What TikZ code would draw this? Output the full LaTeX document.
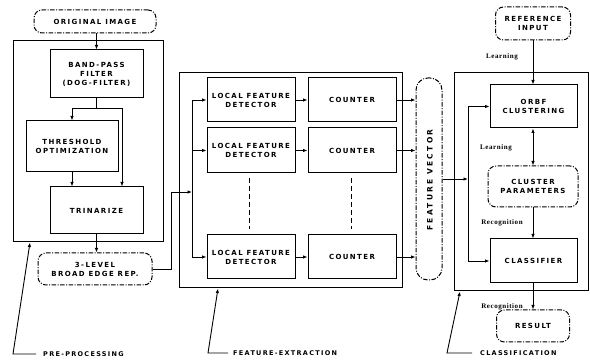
\documentclass[tikz,border=0pt]{standalone}
\usepackage{fontspec}
\setmainfont{DejaVu Sans}
\newfontfamily\capsfont{DejaVu Sans}[LetterSpace=20]
\newfontfamily\widecaps{DejaVu Sans}[LetterSpace=30]
\newfontfamily\notefont{Liberation Serif}[LetterSpace=8]
\usetikzlibrary{arrows.meta,calc}

\tikzset{
  boxfont/.style={font=\capsfont\bfseries\fontsize{7}{9}\selectfont},
  box/.style={draw, line width=1pt, align=center, inner sep=1pt, boxfont},
  term/.style={box, rounded corners=8pt,
    dash pattern=on 4.5pt off 1.5pt on 1pt off 1.5pt},
  frame/.style={draw, line width=1pt, inner sep=0pt},
  wire/.style={line width=0.9pt},
  arr/.style={wire, -{Latex[length=4.5pt,width=3.5pt]}},
  biarr/.style={wire, {Latex[length=4.5pt,width=3.5pt]}-{Latex[length=4.5pt,width=3.5pt]}},
  note/.style={font=\notefont\bfseries\fontsize{7}{8}\selectfont, inner sep=0pt},
  caption/.style={font=\capsfont\bfseries\fontsize{6.5}{8}\selectfont, inner sep=0pt, anchor=west},
  ellip/.style={line width=0.9pt, dash pattern=on 5pt off 3pt}
}

\begin{document}
\begin{tikzpicture}[x=1pt,y=-1pt]
\useasboundingbox (0,0) rectangle (590,363);

% ---------- pre-processing ----------
\node[frame, minimum width=150pt, minimum height=201pt] (pre) at (88,141.5) {};
\node[term, minimum width=122pt, minimum height=23pt] (orig) at (95,21.5) {ORIGINAL IMAGE};
\node[box, minimum width=93pt, minimum height=48pt] (bpf) at (96.5,74) {BAND-PASS\\FILTER\\(DOG-FILTER)};
\node[box, minimum width=92pt, minimum height=51pt] (thr) at (72,146.5) {THRESHOLD\\OPTIMIZATION};
\node[box, minimum width=93pt, minimum height=47pt] (tri) at (96.5,210.5) {TRINARIZE};
\node[term, minimum width=114pt, minimum height=32pt] (lev) at (95,269) {3-LEVEL\\BROAD EDGE REP.};

\coordinate (splitL) at (72,108);
\coordinate (splitR) at (122,108);
\draw[arr] (bpf.north |- orig.south) -- (bpf.north);
\draw[wire] (bpf.south) -- (bpf.south |- splitL);
\draw[wire] (splitL) -- (splitR);
\draw[arr] (splitL) -- (thr.north);
\draw[arr] (splitR) -- (splitR |- tri.north);
\draw[arr] (thr.south) -- (thr.south |- tri.north);
\draw[arr] (tri.south) -- (tri.south |- lev.north);

% ---------- feature extraction ----------
\node[frame, minimum width=223pt, minimum height=215pt] (fe) at (290.5,180.5) {};
\node[box, minimum width=88pt, minimum height=44pt] (det1) at (251,100) {LOCAL FEATURE\\DETECTOR};
\node[box, minimum width=88pt, minimum height=45pt] (det2) at (251,150.5) {LOCAL FEATURE\\DETECTOR};
\node[box, minimum width=88pt, minimum height=44pt] (det3) at (251,257) {LOCAL FEATURE\\DETECTOR};
\node[box, minimum width=88pt, minimum height=44pt] (cnt1) at (352,100) {COUNTER};
\node[box, minimum width=88pt, minimum height=45pt] (cnt2) at (352,150.5) {COUNTER};
\node[box, minimum width=88pt, minimum height=44pt] (cnt3) at (352,257) {COUNTER};

\node[term, rounded corners=12pt, minimum width=26pt, minimum height=202pt] (fv) at (429,179) {};
\node[font=\widecaps\bfseries\fontsize{7.5}{9}\selectfont, rotate=90, inner sep=0pt, anchor=center]
  (fvtext) at (430,180) {FEATURE VECTOR};

\coordinate (bend) at (171,192);
\coordinate (busIn) at (192,192);
\coordinate (busT) at (192,100);
\coordinate (busB) at (192,257);
\draw[arr] (lev.east) -| (bend) -- (busIn);
\draw[wire] (busT) -- (busB);
\draw[arr] (busT) -- (det1.west);
\draw[arr] (det2.west -| busT) -- (det2.west);
\draw[arr] (busB) -- (det3.west);

\foreach \i in {1,2,3}{
  \draw[arr] (det\i.east) -- (cnt\i.west);
  \draw[arr] (cnt\i.east) -- (cnt\i.east -| fv.west);
}
\draw[ellip] ($(det2.south)+(-2,5)$) -- ($(det3.north)+(-2,-5)$);
\draw[ellip] ($(cnt2.south)+(-1,5)$) -- ($(cnt3.north)+(-1,-5)$);

% ---------- classification ----------
\node[frame, minimum width=134pt, minimum height=218pt] (cls) at (521,182) {};
\node[term, minimum width=75pt, minimum height=33pt] (ref) at (533,23.5) {REFERENCE\\INPUT};
\node[box, minimum width=87pt, minimum height=43pt] (orbf) at (533.5,106.5) {ORBF\\CLUSTERING};
\node[term, minimum width=90pt, minimum height=41pt] (cpar) at (533,186.5) {CLUSTER\\PARAMETERS};
\node[box, minimum width=87pt, minimum height=44pt] (clf) at (533.5,261) {CLASSIFIER};
\node[term, minimum width=73pt, minimum height=32pt] (res) at (533,326) {RESULT};

\coordinate (cbT) at (468,106.5);
\coordinate (cbB) at (468,261);
\draw[arr] (fv.east) -- (fv.east -| cbT);
\draw[wire] (cbT) -- (cbB);
\draw[arr] (cbT) -- (orbf.west);
\draw[arr] (cbB) -- (clf.west);

\draw[arr] (ref.south) -- (ref.south |- orbf.north);
\draw[biarr] (orbf.south -| cpar.north) -- (cpar.north);
\draw[arr] (cpar.south) -- (cpar.south |- clf.north);
\draw[arr] (clf.south -| res.north) -- (res.north);

\node[note] (lrn1) at (502,57) {Learning};
\node[note] (lrn2) at (496,148) {Learning};
\node[note] (rec1) at (502,223) {Recognition};
\node[note] (rec2) at (502,307) {Recognition};

% ---------- section captions ----------
\node[caption] (ppT) at (43,354) {PRE-PROCESSING};
\node[caption] (feT) at (233,353) {FEATURE-EXTRACTION};
\node[caption] (clT) at (480,353) {CLASSIFICATION};
\coordinate (ppC) at (13,354);
\coordinate (feC) at (208,353);
\coordinate (clC) at (447,353);
\coordinate (ppTip) at (30,242.5);
\coordinate (feTip) at (218,288.5);
\coordinate (clTip) at (460,291.5);
\draw[arr] ([xshift=-7pt]ppT.west) -- (ppC) -- (ppTip);
\draw[arr] ([xshift=-5pt]feT.west) -- (feC) -- (feTip);
\draw[arr] ([xshift=-8pt]clT.west) -- (clC) -- (clTip);
\end{tikzpicture}
\end{document}
